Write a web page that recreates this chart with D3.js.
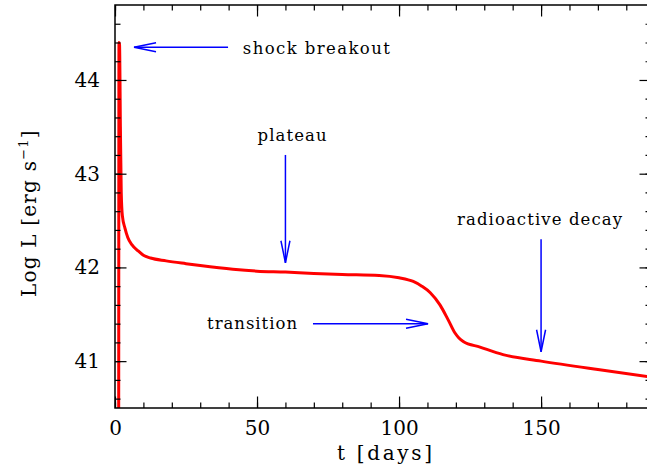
<!DOCTYPE html>
<html>
<head>
<meta charset="utf-8">
<script src="https://cdn.jsdelivr.net/npm/d3@7"></script>
<style>
  html, body { margin: 0; padding: 0; background: #fff; }
  svg { display: block; font-family: "DejaVu Serif", serif; }
</style>
</head>
<body>
<div id="svg-container"></div>
<script>
// light curve: time since explosion [days] and log luminosity [erg/s]
const days = [1.3, 1.4, 1.6, 1.9, 2.2, 2.6, 3.5, 4.5, 6, 8, 10, 12.5, 18, 25, 30, 41.5, 50, 60, 70, 80,
  93, 100, 105, 108, 111, 114.4, 117.3, 119.7, 121, 122.6, 128.5, 136.6, 150, 170, 189];
const logL = [40.3, 44.4, 44.38, 43.5, 42.8, 42.55, 42.42, 42.32, 42.24, 42.18, 42.13, 42.1, 42.07, 42.04, 42.02, 41.98, 41.96, 41.95, 41.935, 41.925,
  41.915, 41.89, 41.85, 41.8, 41.73, 41.6, 41.44, 41.3, 41.25, 41.21, 41.15, 41.07, 41.0, 40.91, 40.83];

// axis ticks
const xMajor = [0, 50, 100, 150];
const xMinor = d3.range(0, 190, 10);
const yMajor = [41, 42, 43, 44];
const yMinor = d3.range(40.6, 44.8, 0.2);

// annotations: label, label anchor (t, logL), arrow from -> to (t, logL)
const labels = ["shock breakout", "plateau", "transition", "radioactive decay"];
const labelPos = [[45, 44.28], [50.2, 43.35], [32.4, 41.34], [120.4, 42.45]];
const arrowFrom = [[39.8, 44.35], [60, 43.2], [69.7, 41.4], [150, 42.3]];
const arrowTo = [[6.7, 44.35], [60, 42.05], [110.2, 41.4], [150, 41.1]];
const labelLen = [147, 69, 90, 165];

////////////////////////////////////////////////////////////////////
//////////////////////////////  Init  ///////////////////////////////
const width = 647, height = 469;
const margin = { top: 5, right: -4, bottom: 61, left: 115 };

const svg = d3.select("#svg-container").append("svg")
    .attr("width", width).attr("height", height);

const xScale = d3.scaleLinear().domain([0, 188.7]).range([margin.left, width - margin.right]);
const yScale = d3.scaleLinear().domain([40.5, 44.8]).range([height - margin.bottom, margin.top]);

const x0 = xScale.range()[0], x1 = xScale.range()[1];
const y0 = yScale.range()[0], y1 = yScale.range()[1];

svg.append("clipPath").attr("id", "clip")
  .append("rect").attr("x", x0).attr("y", y1).attr("width", x1 - x0).attr("height", y0 - y1);

// curve
const pts = days.map((d, i) => [d, logL[i]]);
svg.append("path")
    .datum(pts)
    .attr("clip-path", "url(#clip)")
    .attr("fill", "none")
    .attr("stroke", "#ff0000")
    .attr("stroke-width", 3)
    .attr("stroke-linejoin", "round")
    .attr("d", d3.line().x((d) => xScale(d[0])).y((d) => yScale(d[1])).curve(d3.curveMonotoneX));

// axes (ticks pointing inward on all four sides)
function styleAxis(g) {
    g.select(".domain").remove();
    g.selectAll(".tick line").attr("stroke", "#000").attr("stroke-width", 1.2);
    g.selectAll("text").attr("font-family", "DejaVu Serif, serif").attr("font-size", 20).attr("fill", "#000");
}

svg.append("g").attr("transform", `translate(0,${y0})`)
    .call(d3.axisBottom(xScale).tickValues(xMajor).tickSize(-11.5).tickPadding(13).tickFormat(d3.format("d")))
    .call(styleAxis);
svg.append("g").attr("transform", `translate(0,${y0})`)
    .call(d3.axisBottom(xScale).tickValues(xMinor).tickSize(-5.5).tickFormat(""))
    .call(styleAxis);
svg.append("g").attr("transform", `translate(0,${y1})`)
    .call(d3.axisTop(xScale).tickValues(xMajor).tickSize(-11.5).tickFormat(""))
    .call(styleAxis);
svg.append("g").attr("transform", `translate(0,${y1})`)
    .call(d3.axisTop(xScale).tickValues(xMinor).tickSize(-5.5).tickFormat(""))
    .call(styleAxis);

svg.append("g").attr("transform", `translate(${x0},0)`)
    .call(d3.axisLeft(yScale).tickValues(yMajor).tickSize(-11.5).tickPadding(15).tickFormat(d3.format("d")))
    .call(styleAxis);
svg.append("g").attr("transform", `translate(${x0},0)`)
    .call(d3.axisLeft(yScale).tickValues(yMinor).tickSize(-5.5).tickFormat(""))
    .call(styleAxis);
svg.append("g").attr("transform", `translate(${x1},0)`)
    .call(d3.axisRight(yScale).tickValues(yMajor).tickSize(-11.5).tickFormat(""))
    .call(styleAxis);
svg.append("g").attr("transform", `translate(${x1},0)`)
    .call(d3.axisRight(yScale).tickValues(yMinor).tickSize(-5.5).tickFormat(""))
    .call(styleAxis);

// frame
svg.append("rect")
    .attr("x", x0).attr("y", y1)
    .attr("width", x1 - x0).attr("height", y0 - y1)
    .attr("fill", "none").attr("stroke", "#000").attr("stroke-width", 1.5);

// axis titles
svg.append("text")
    .attr("x", 337).attr("y", 460)
    .attr("font-size", 20)
    .attr("textLength", 95).attr("lengthAdjust", "spacing")
    .text("t [days]");

const yTitle = svg.append("text")
    .attr("transform", "translate(36,297) rotate(-90)")
    .attr("font-size", 20)
    .attr("letter-spacing", 1.2);
yTitle.append("tspan").text("Log L [erg s");
yTitle.append("tspan").attr("dy", -8).attr("font-size", 13).text("\u22121");
yTitle.append("tspan").attr("dy", 8).text("]");

// annotations
const ann = svg.append("g").attr("fill", "#000");
labels.forEach((txt, i) => {
    ann.append("text")
        .attr("x", xScale(labelPos[i][0]))
        .attr("y", yScale(labelPos[i][1]))
        .attr("font-size", 16.5)
        .attr("textLength", labelLen[i])
        .attr("lengthAdjust", "spacing")
        .text(txt);

    const ax0 = xScale(arrowFrom[i][0]), ay0 = yScale(arrowFrom[i][1]);
    const ax1 = xScale(arrowTo[i][0]), ay1 = yScale(arrowTo[i][1]);
    const ang = Math.atan2(ay1 - ay0, ax1 - ax0);
    const headLen = 22, headW = 4.5;
    const bx = ax1 - headLen * Math.cos(ang), by = ay1 - headLen * Math.sin(ang);
    const nx = -Math.sin(ang) * headW, ny = Math.cos(ang) * headW;

    ann.append("line")
        .attr("x1", ax0).attr("y1", ay0).attr("x2", ax1).attr("y2", ay1)
        .attr("stroke", "#0000ff").attr("stroke-width", 1.5);
    ann.append("path")
        .attr("d", `M${bx + nx},${by + ny}L${ax1},${ay1}L${bx - nx},${by - ny}`)
        .attr("fill", "none").attr("stroke", "#0000ff").attr("stroke-width", 1.5);
});
</script>
</body>
</html>
